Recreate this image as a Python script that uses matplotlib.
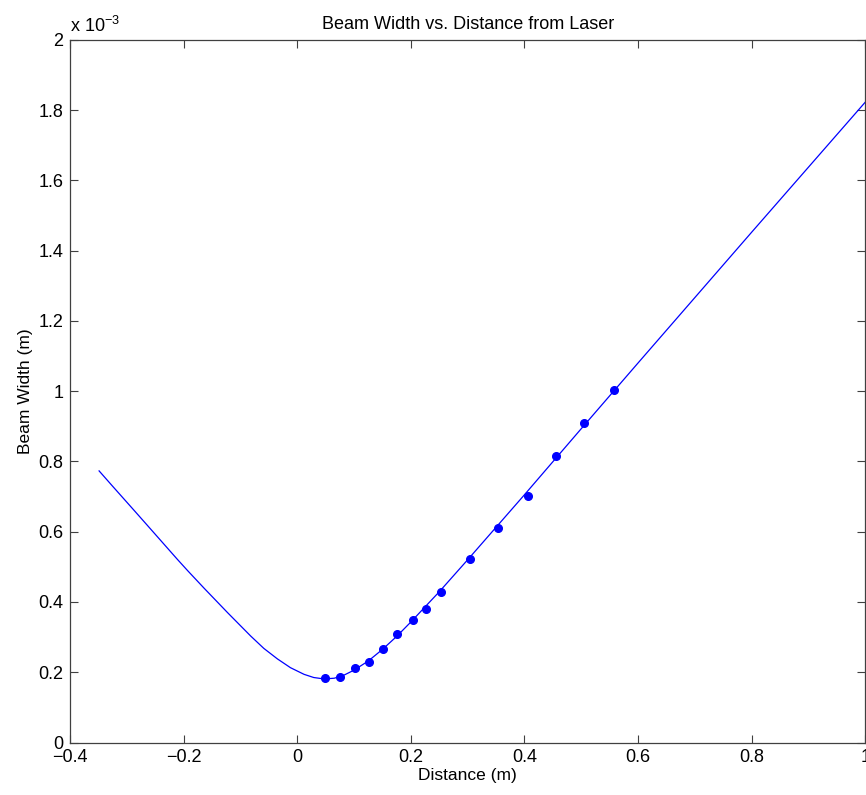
import matplotlib.pyplot as plt

plt.rcParams['font.family'] = ['Liberation Sans', 'DejaVu Sans']
plt.rcParams['mathtext.fontset'] = 'custom'
plt.rcParams['mathtext.rm'] = 'Liberation Sans'
plt.rcParams['mathtext.default'] = 'regular'

# Measured beam widths (x 1e-3 m)
meas_x = [0.048, 0.076, 0.102, 0.127, 0.151, 0.176, 0.203, 0.226, 0.253,
          0.304, 0.354, 0.406, 0.455, 0.505, 0.557]
meas_w = [0.183, 0.187, 0.211, 0.229, 0.266, 0.309, 0.350, 0.381, 0.429,
          0.521, 0.610, 0.703, 0.815, 0.909, 1.002]

# Fitted curve (x 1e-3 m)
fit_x = [-0.349, -0.325, -0.287, -0.264, -0.211, -0.193, -0.164, -0.123,
         -0.082, -0.059, -0.035, -0.012, 0.012, 0.029, 0.047, 0.065, 0.080,
         0.100, 0.125, 0.150, 0.175, 0.200, 0.250, 0.300, 0.400, 0.500,
         0.600, 0.700, 0.800, 0.900, 1.000]
fit_w = [0.773, 0.729, 0.660, 0.618, 0.521, 0.489, 0.439, 0.370,
         0.303, 0.268, 0.238, 0.213, 0.194, 0.185, 0.181, 0.183, 0.190,
         0.206, 0.232, 0.265, 0.302, 0.343, 0.429, 0.520, 0.705, 0.893,
         1.080, 1.266, 1.452, 1.637, 1.822]

x_ticks = [-0.4, -0.2, 0, 0.2, 0.4, 0.6, 0.8, 1]
y_ticks = [0, 0.2, 0.4, 0.6, 0.8, 1, 1.2, 1.4, 1.6, 1.8, 2]

fig = plt.figure(figsize=(8.66, 7.95), dpi=100)
ax = fig.add_axes([0.081, 0.066, 0.918, 0.884])

ax.plot(fit_x, fit_w, color='#0000ff', linewidth=0.9)
ax.plot(meas_x, meas_w, 'o', color='#0000ff', markersize=5.5)

ax.set_xlim(-0.4, 1)
ax.set_ylim(0, 2)
ax.set_xticks(x_ticks)
ax.set_xticklabels(['\u22120.4', '\u22120.2', '0', '0.2', '0.4', '0.6', '0.8', '1'])
ax.set_yticks(y_ticks)
ax.set_yticklabels(['0', '0.2', '0.4', '0.6', '0.8', '1', '1.2', '1.4', '1.6', '1.8', '2'])
ax.tick_params(direction='in', length=6, width=0.8, color='#404040',
               labelsize=13, top=True, right=True, pad=5)
for s in ax.spines.values():
    s.set_color('#404040')
    s.set_linewidth(0.9)

ax.set_title('Beam Width vs. Distance from Laser', fontsize=13, pad=8)
ax.set_xlabel('Distance (m)', fontsize=12.5, labelpad=1)
ax.set_ylabel('Beam Width (m)', fontsize=12.5, labelpad=4)
ax.text(0, 1.005, r'x 10$^{-3}$', transform=ax.transAxes, fontsize=13,
        ha='left', va='bottom')

fig.savefig('out.png', dpi=100)
